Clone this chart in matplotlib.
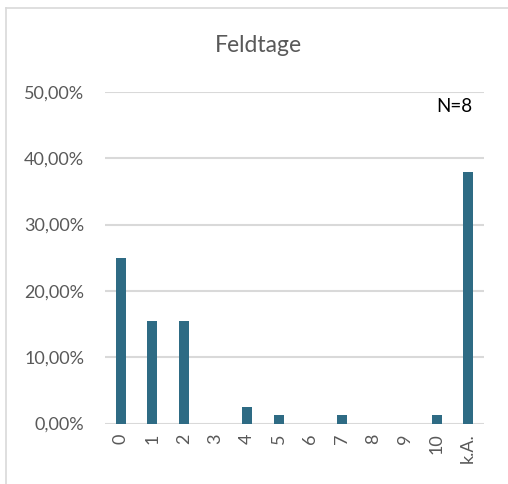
import matplotlib
matplotlib.use("Agg")
import matplotlib.pyplot as plt
from matplotlib.lines import Line2D
from matplotlib.ticker import FuncFormatter

categories = ["0", "1", "2", "3", "4", "5", "6", "7", "8", "9", "10", "k.A."]
shares = [25.0, 15.4, 15.4, 0.0, 2.5, 1.25, 0.0, 1.25, 0.0, 0.0, 1.25, 38.0]
y_ticks = [0, 10, 20, 30, 40, 50]
title = "Feldtage"
sample_note = "N=8"

BAR_COLOR = "#2E6B84"
TEXT_COLOR = "#595959"
GRID_COLOR = "#D9D9D9"

plt.rcParams["font.family"] = ["Lato", "DejaVu Sans"]

W, H = 508, 484
fig = plt.figure(figsize=(W / 100, H / 100), dpi=100)

# chart frame (top and left edges)
fig.add_artist(Line2D([6 / W, 1.0], [1 - 8 / H, 1 - 8 / H], color=GRID_COLOR, lw=1.2))
fig.add_artist(Line2D([6 / W, 6 / W], [0.0, 1 - 8 / H], color=GRID_COLOR, lw=1.2))

left, right = 105 / W, 484 / W
top, bottom = 1 - 92 / H, 1 - 423.5 / H
ax = fig.add_axes([left, bottom, right - left, top - bottom])

x = range(len(categories))
ax.bar(x, shares, width=0.32, color=BAR_COLOR, zorder=3)

ax.set_xlim(-0.5, len(categories) - 0.5)
ax.set_ylim(0, 50)
ax.set_yticks(y_ticks)
ax.yaxis.set_major_formatter(FuncFormatter(lambda v, _: f"{v:.2f}".replace(".", ",") + "%"))
ax.grid(axis="y", color=GRID_COLOR, lw=1.5, zorder=0)
ax.set_xticks(list(x))
ax.set_xticklabels(categories, rotation=90)

for s in ax.spines.values():
    s.set_visible(False)
ax.tick_params(axis="both", length=0, colors=TEXT_COLOR, labelsize=13)
ax.tick_params(axis="y", pad=15)
ax.tick_params(axis="x", pad=7)

fig.text(258 / W, 1 - 45 / H, title, ha="center", va="center",
         fontsize=16.5, color=TEXT_COLOR)
ax.text(0.97, 0.955, sample_note, transform=ax.transAxes, ha="right", va="center",
        fontsize=13.5, color="black")

fig.savefig("out.png", dpi=100)
